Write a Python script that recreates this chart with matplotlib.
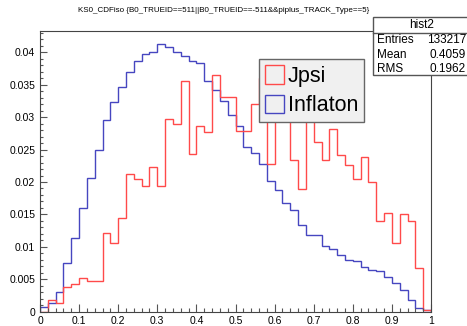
import numpy as np
import matplotlib
matplotlib.use('Agg')
import matplotlib.pyplot as plt
from matplotlib.patches import Patch, Rectangle
from matplotlib.lines import Line2D
from matplotlib.ticker import MultipleLocator, FuncFormatter

plt.rcParams['font.family'] = ['Liberation Sans', 'DejaVu Sans']

# 50 bins from 0 to 1, both histograms normalised to unit area
bin_edges = np.linspace(0.0, 1.0, 51)

jpsi = [0.0000, 0.0018, 0.0014, 0.0038, 0.0042, 0.0052, 0.0047, 0.0047, 0.0121, 0.0106,
        0.0145, 0.0213, 0.0205, 0.0194, 0.0223, 0.0194, 0.0297, 0.0290, 0.0355, 0.0243,
        0.0286, 0.0277, 0.0365, 0.0331, 0.0331, 0.0278, 0.0278, 0.0321, 0.0360, 0.0228,
        0.0320, 0.0310, 0.0234, 0.0189, 0.0300, 0.0262, 0.0234, 0.0281, 0.0242, 0.0226,
        0.0205, 0.0238, 0.0200, 0.0140, 0.0152, 0.0106, 0.0151, 0.0140, 0.0067, 0.0003]

inflaton = [0.0008, 0.0013, 0.0031, 0.0075, 0.0113, 0.0160, 0.0206, 0.0249, 0.0296, 0.0323,
            0.0347, 0.0369, 0.0387, 0.0397, 0.0401, 0.0412, 0.0408, 0.0400, 0.0394, 0.0387,
            0.0383, 0.0356, 0.0342, 0.0325, 0.0303, 0.0286, 0.0254, 0.0244, 0.0228, 0.0201,
            0.0188, 0.0168, 0.0157, 0.0134, 0.0118, 0.0118, 0.0102, 0.0096, 0.0088, 0.0080,
            0.0078, 0.0069, 0.0064, 0.0062, 0.0054, 0.0045, 0.0034, 0.0018, 0.0006, 0.0003]

labels = ['Jpsi', 'Inflaton']
stat_names = ['Entries', 'Mean', 'RMS']
stat_values = ['133217', '0.4059', '0.1962']
title = 'KS0_CDFiso {B0_TRUEID==511||B0_TRUEID==-511&&piplus_TRACK_Type==5}'

red = '#ff4a4a'
blue = '#4646c0'
W, H = 467, 326

def fx(px):
    return px / W

def fy(py):
    return 1 - py / H

fig = plt.figure(figsize=(W / 100, H / 100), dpi=100)
ax = fig.add_axes([fx(40), fy(311.7), fx(431) - fx(40), fy(31) - fy(311.7)])

ax.stairs(inflaton, bin_edges, color=blue, linewidth=1.0)
ax.stairs(jpsi, bin_edges, color=red, linewidth=1.0)

ax.set_xlim(0, 1)
ax.set_ylim(0, 0.04328)

ax.xaxis.set_major_locator(MultipleLocator(0.1))
ax.xaxis.set_minor_locator(MultipleLocator(0.02))
ax.yaxis.set_major_locator(MultipleLocator(0.005))
ax.yaxis.set_minor_locator(MultipleLocator(0.001))
ax.xaxis.set_major_formatter(FuncFormatter(lambda v, p: '%g' % round(v, 4)))
ax.yaxis.set_major_formatter(FuncFormatter(lambda v, p: '%g' % round(v, 4)))

ax.tick_params(axis='both', which='both', direction='in', top=False, right=False,
               color='#555555', width=0.8, labelsize=7.5)
ax.tick_params(axis='x', which='major', length=6, pad=3)
ax.tick_params(axis='x', which='minor', length=3)
ax.tick_params(axis='y', which='major', length=5, pad=3.5)
ax.tick_params(axis='y', which='minor', length=2.5)
for s in ax.spines.values():
    s.set_color('#444444')
    s.set_linewidth(0.8)

# legend
handles = [Patch(facecolor='none', edgecolor=red, linewidth=1.0),
           Patch(facecolor='none', edgecolor=blue, linewidth=1.0)]
leg = ax.legend(handles, labels, loc='upper left',
                bbox_to_anchor=(fx(259.3), fy(59.3)), bbox_transform=fig.transFigure,
                fontsize=15.5, handlelength=0.85, handleheight=0.95, handletextpad=0.2,
                borderpad=0.28, labelspacing=0.36, borderaxespad=0.0, fancybox=False,
                framealpha=1.0, facecolor='#f0f0f0', edgecolor='#666666')
leg.get_frame().set_linewidth(1.0)

# title
fig.text(fx(223.5), fy(11), title, ha='center', va='center', fontsize=5.8)

# stats box
x0, x1, y0, y1, yh = 372.7, 470, 17.3, 75, 33.3
fig.patches.append(Rectangle((fx(x0), fy(y1)), fx(x1) - fx(x0), fy(y0) - fy(y1),
                             transform=fig.transFigure, facecolor='white',
                             edgecolor='#555555', linewidth=1.0, zorder=5))
fig.add_artist(Line2D([fx(x0), fx(x1)], [fy(yh), fy(yh)], transform=fig.transFigure,
                      color='#555555', linewidth=1.0, zorder=6))
fig.text(fx(421.7), fy(25.3), 'hist2', ha='center', va='center', fontsize=8.5, zorder=7)
for k, (n, v) in enumerate(zip(stat_names, stat_values)):
    yy = 40 + 14.5 * k
    fig.text(fx(376.7), fy(yy), n, ha='left', va='center', fontsize=8.5, zorder=7)
    fig.text(fx(466), fy(yy), v, ha='right', va='center', fontsize=8.5, zorder=7)

fig.savefig('out.png', dpi=100)
